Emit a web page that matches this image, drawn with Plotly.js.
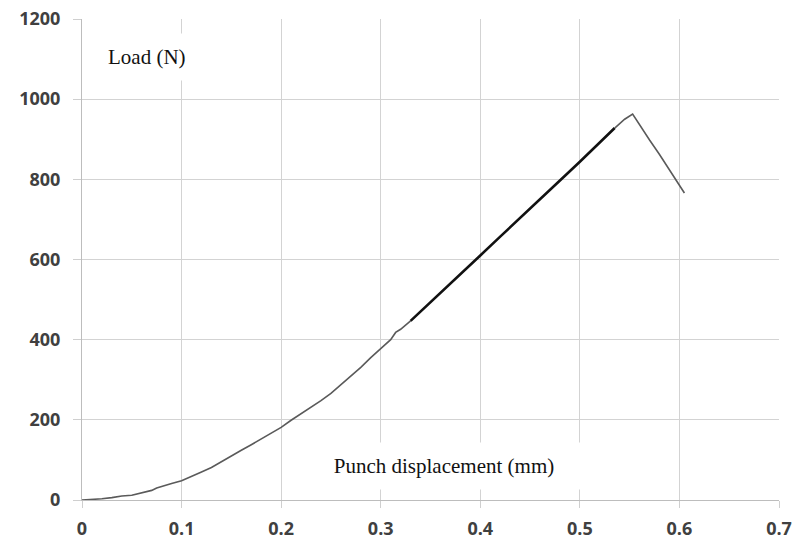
<!DOCTYPE html>
<html>
<head>
<meta charset="utf-8">
<script src="https://cdn.plot.ly/plotly-3.0.1.min.js"></script>
<style>html,body{margin:0;padding:0;background:#fff;}#chart{width:797px;height:543px;}</style>
</head>
<body>
<div id="chart"></div>
<script>
// Rising part (gray, thin)
const dispLow = [0, 0.01, 0.02, 0.03, 0.04, 0.05, 0.06, 0.07, 0.075, 0.08, 0.09, 0.1, 0.11, 0.12, 0.13, 0.14, 0.15, 0.16, 0.17, 0.18, 0.19, 0.2, 0.21, 0.22, 0.23, 0.24, 0.25, 0.26, 0.27, 0.28, 0.29, 0.3, 0.31, 0.315, 0.32, 0.33];
const loadLow = [0, 1, 3, 6, 10, 12, 18, 24, 30, 34, 41, 48, 58, 70, 81, 96, 110, 124, 138, 152, 167, 181, 199, 215, 231, 248, 266, 287, 310, 331, 355, 378, 400, 418, 426, 447];
// Linear part (black, thicker)
const dispMid = [0.33, 0.35, 0.37, 0.39, 0.4, 0.42, 0.44, 0.46, 0.48, 0.5, 0.52, 0.535];
const loadMid = [447, 493, 540, 586, 610, 657, 703, 750, 797, 844, 892, 928];
// Peak and drop (gray)
const dispHigh = [0.535, 0.545, 0.553, 0.56, 0.57, 0.58, 0.587, 0.597, 0.602, 0.605];
const loadHigh = [928, 950, 963, 935, 898, 862, 836, 798, 778, 766];

const xTicks = [0, 0.1, 0.2, 0.3, 0.4, 0.5, 0.6, 0.7];
const xTickText = ['0', '0.1', '0.2', '0.3', '0.4', '0.5', '0.6', '0.7'];
const yTicks = [0, 200, 400, 600, 800, 1000, 1200];
const yTickText = ['0', '200', '400', '600', '800', '1000', '1200'];

const gray = '#5a5a5a';
const traces = [
  {x: dispLow, y: loadLow, mode: 'lines', line: {color: gray, width: 1.6}, hoverinfo: 'skip'},
  {x: dispMid, y: loadMid, mode: 'lines', line: {color: '#111111', width: 2.6}, hoverinfo: 'skip'},
  {x: dispHigh, y: loadHigh, mode: 'lines', line: {color: gray, width: 1.6}, hoverinfo: 'skip'}
];

const tickFont = {family: 'Open Sans, sans-serif', size: 18, color: '#404040', weight: 700};

const layout = {
  width: 797, height: 543,
  margin: {l: 82, r: 18, t: 19, b: 43, pad: 0},
  paper_bgcolor: '#ffffff', plot_bgcolor: '#ffffff',
  showlegend: false,
  xaxis: {
    range: [0, 0.7], tickvals: xTicks, ticktext: xTickText,
    showgrid: true, gridcolor: '#d3d3d3', gridwidth: 1,
    zeroline: false, showline: true, linecolor: '#bdbdbd', linewidth: 1,
    ticks: 'outside', ticklen: 7, tickcolor: '#cfcfcf', tickwidth: 1,
    ticklabelstandoff: 5, tickfont: tickFont, fixedrange: true
  },
  yaxis: {
    range: [0, 1200], tickvals: yTicks, ticktext: yTickText,
    showgrid: true, gridcolor: '#d3d3d3', gridwidth: 1,
    zeroline: false, showline: true, linecolor: '#bdbdbd', linewidth: 1,
    ticks: 'outside', ticklen: 8, tickcolor: '#cfcfcf', tickwidth: 1,
    ticklabelstandoff: 9, tickfont: tickFont, fixedrange: true
  },
  annotations: [
    {text: 'Load (N)', xref: 'paper', yref: 'paper', x: (147 - 82) / 697, y: (500 - 57) / 481,
     xanchor: 'center', yanchor: 'middle', showarrow: false,
     font: {family: 'Liberation Serif, Times New Roman, serif', size: 21, color: '#111111'},
     bgcolor: '#ffffff', borderpad: 11},
    {text: 'Punch displacement (mm)', xref: 'paper', yref: 'paper', x: (443.5 - 82) / 697, y: (500 - 466) / 481,
     xanchor: 'center', yanchor: 'middle', showarrow: false, width: 262,
     font: {family: 'Liberation Serif, Times New Roman, serif', size: 21, color: '#111111'},
     bgcolor: '#ffffff', borderpad: 11}
  ]
};

Plotly.newPlot('chart', traces, layout, {displayModeBar: false, staticPlot: true});
</script>
</body>
</html>
